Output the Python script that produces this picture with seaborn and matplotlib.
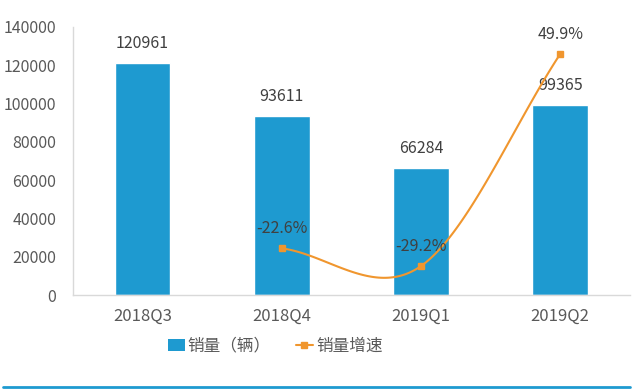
import numpy as np
import pandas as pd
import seaborn as sns
import matplotlib.pyplot as plt
from matplotlib.lines import Line2D
from matplotlib.patches import Patch

# --- data ---
quarters = ['2018Q3', '2018Q4', '2019Q1', '2019Q2']
sales = [120961, 93611, 66284, 99365]
growth_quarters = ['2018Q4', '2019Q1', '2019Q2']
growth = [-22.6, -29.2, 49.9]

BAR_COLOR = '#1E9AD0'
LINE_COLOR = '#F0962E'
TEXT_COLOR = '#595959'

sns.set_theme(style="white")
plt.rcParams['font.family'] = ['Noto Sans CJK SC', 'DejaVu Sans']
plt.rcParams['axes.unicode_minus'] = False

df = pd.DataFrame({'quarter': quarters, 'sales': sales})

fig = plt.figure(figsize=(6.4, 3.89), dpi=100)
ax = fig.add_axes([0.114, 0.2416, 0.87, 0.689])

sns.barplot(data=df, x='quarter', y='sales', color=BAR_COLOR, width=0.4,
            saturation=1, ax=ax)
ax.set_ylim(0, 140000)
ax.set_yticks(range(0, 140001, 20000))
ax.set_xlabel('')
ax.set_ylabel('')
ax.tick_params(axis='both', length=0, labelsize=12, labelcolor=TEXT_COLOR)
ax.tick_params(axis='y', labelsize=11.5, pad=12)
ax.tick_params(axis='x', pad=9)
for side in ['top', 'right']:
    ax.spines[side].set_visible(False)
for side in ['left', 'bottom']:
    ax.spines[side].set_color('#D9D9D9')
    ax.spines[side].set_linewidth(1)

for i, v in enumerate(sales):
    ax.annotate(str(v), (i, v), xytext=(0, 8), textcoords='offset points',
                ha='center', va='bottom', fontsize=11.5, color='#404040')

# growth line on hidden secondary axis
ax2 = ax.twinx()
ax2.set_ylim(-40, 60)
ax2.axis('off')
gx = np.array([quarters.index(q) for q in growth_quarters], dtype=float)
gy = np.array(growth)

# smoothed curve (Catmull-Rom style bezier, like Excel's smoothed line)
pts = np.column_stack([gx, gy])
n = len(pts)
tang = np.zeros_like(pts)
for i in range(n):
    if i == 0:
        tang[i] = pts[1] - pts[0]
    elif i == n - 1:
        tang[i] = pts[-1] - pts[-2]
    else:
        tang[i] = (pts[i + 1] - pts[i - 1]) / 2
curve = []
t = np.linspace(0, 1, 60)[:, None]
for i in range(n - 1):
    b0, b3 = pts[i], pts[i + 1]
    b1 = b0 + tang[i] / 3
    b2 = b3 - tang[i + 1] / 3
    seg = ((1 - t) ** 3) * b0 + 3 * ((1 - t) ** 2) * t * b1 + 3 * (1 - t) * t ** 2 * b2 + t ** 3 * b3
    curve.append(seg)
curve = np.vstack(curve)
ax2.plot(curve[:, 0], curve[:, 1], color=LINE_COLOR, lw=1.5)
ax2.plot(gx, gy, linestyle='none', marker='s', markersize=5, color=LINE_COLOR)

for x, y in zip(gx, gy):
    ax2.annotate(f'{y:.1f}%', (x, y), xytext=(0, 8), textcoords='offset points',
                 ha='center', va='bottom', fontsize=11.5, color='#404040')

ax.set_xlim(-0.5, len(quarters) - 0.5)

handles = [Patch(facecolor=BAR_COLOR, edgecolor='none'),
           Line2D([0], [0], color=LINE_COLOR, lw=1.5, marker='s', markersize=5)]
fig.legend(handles, ['销量（辆）', '销量增速'], loc='center', bbox_to_anchor=(0.43, 0.11),
           ncol=2, frameon=False, fontsize=12, labelcolor=TEXT_COLOR,
           handlelength=1.0, handletextpad=0.2, columnspacing=1.5)

fig.add_artist(Line2D([0.005, 0.985], [0.006, 0.006], color=BAR_COLOR, lw=2,
                      transform=fig.transFigure))

fig.savefig('out.png', dpi=100)
